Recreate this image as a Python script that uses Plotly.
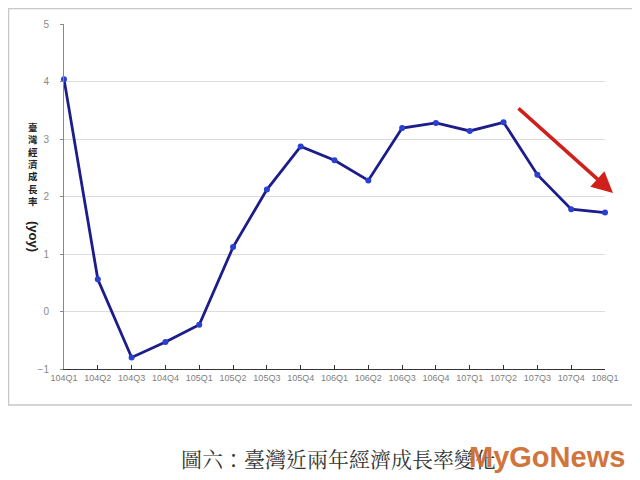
import plotly.graph_objects as go

quarters = ["104Q1", "104Q2", "104Q3", "104Q4", "105Q1", "105Q2", "105Q3", "105Q4",
            "106Q1", "106Q2", "106Q3", "106Q4", "107Q1", "107Q2", "107Q3", "107Q4", "108Q1"]
growth = [4.04, 0.56, -0.80, -0.53, -0.23, 1.12, 2.12, 2.87,
          2.63, 2.28, 3.19, 3.28, 3.14, 3.29, 2.38, 1.78, 1.72]
y_ticks = [-1, 0, 1, 2, 3, 4, 5]
y_title_cn = "臺灣經濟成長率"
y_title_en = "(yoy)"
caption = "圖六：臺灣近兩年經濟成長率變化"
watermark = "MyGoNews"

# page has an 8px body margin; plot area spans page x 64..605, y 24..369
OFF = 8
PL, PR, PT, PB = 64, 605, 24, 369
def px(x):
    return (x - PL) / (PR - PL)
def py(y):
    return (PB - y) / (PB - PT)

fig = go.Figure()
fig.add_trace(go.Scatter(
    x=list(range(len(quarters))), y=growth, mode="lines+markers",
    line=dict(color="#1c1c8a", width=2.8),
    marker=dict(color="#2a40d0", size=6),
    cliponaxis=False, showlegend=False,
))

fig.update_layout(
    width=640, height=480,
    margin=dict(l=PL - OFF, r=640 + OFF - PR, t=PT - OFF, b=480 + OFF - PB, autoexpand=False),
    paper_bgcolor="white", plot_bgcolor="white",
    font=dict(family="Liberation Sans, Arial, sans-serif", color="#777777"),
    xaxis=dict(
        range=[0, len(quarters) - 1], tickmode="array",
        tickvals=list(range(len(quarters))), ticktext=quarters,
        showgrid=False, zeroline=False, showline=True, linecolor="#333333", linewidth=1.2,
        ticks="inside", ticklen=4, tickcolor="#333333",
        tickfont=dict(size=9, color="#808080"),
    ),
    yaxis=dict(
        range=[-1, 5], tickmode="array", tickvals=y_ticks,
        showgrid=True, gridcolor="#dcdcdc", gridwidth=1, zeroline=False,
        showline=True, linecolor="#888888", linewidth=1,
        ticks="outside", ticklen=3, tickcolor="#888888",
        tickfont=dict(size=10, color="#8a8a8a"), ticklabelstandoff=9,
    ),
    shapes=[dict(type="rect", xref="paper", yref="paper",
                 x0=px(8.5), x1=px(633), y0=py(405), y1=py(8.5),
                 line=dict(color="#c8c8c8", width=1.5), layer="below")],
)

# vertical y-axis title: upright CJK characters stacked, rotated latin part
fig.add_annotation(
    xref="paper", yref="paper", x=px(33), y=py(164),
    xanchor="center", yanchor="middle",
    text="<br>".join("<b>" + ch + "</b>" for ch in y_title_cn), showarrow=False,
    font=dict(family="Noto Sans CJK TC", size=9.5, color="#222222"),
)
fig.add_annotation(
    xref="paper", yref="paper", x=px(33), y=py(236),
    xanchor="center", yanchor="middle",
    text="<b>" + y_title_en + "</b>", showarrow=False, textangle=90,
    font=dict(family="Liberation Sans", size=13, color="#222222"),
)
# red trend arrow
fig.add_annotation(
    xref="paper", yref="paper", x=px(613), y=py(193),
    ax=-96, ay=-86, axref="pixel", ayref="pixel",
    text="", showarrow=True, arrowhead=2, arrowsize=1.2, arrowwidth=3.5,
    arrowcolor="#d0201c",
)
fig.add_annotation(
    xref="paper", yref="paper", x=px(338), y=py(458),
    xanchor="center", yanchor="middle",
    text=caption, showarrow=False,
    font=dict(family="Noto Serif CJK TC, Noto Sans CJK TC", size=21, color="#333333"),
)
fig.add_annotation(
    xref="paper", yref="paper", x=px(547), y=py(457),
    xanchor="center", yanchor="middle",
    text="<b>" + watermark + "</b>", showarrow=False,
    font=dict(family="Liberation Sans, Arial", size=29, color="#cf6a2c"),
    opacity=0.92,
)

fig.write_html("out.html")
